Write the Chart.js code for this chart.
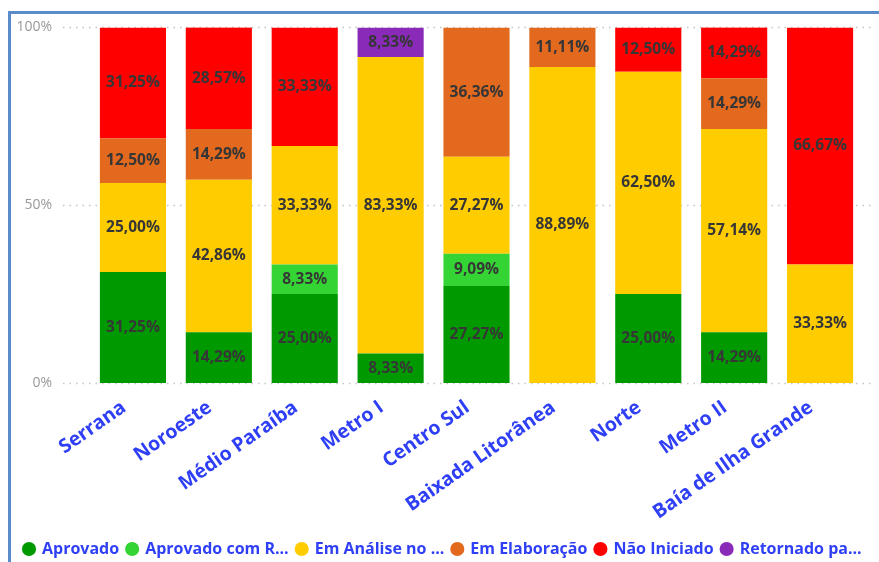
<!DOCTYPE html>
<html>
<head>
<meta charset="utf-8">
<script src="https://cdn.jsdelivr.net/npm/chart.js"></script>
<style>
  html, body { margin: 0; padding: 0; background: #fff; overflow: hidden; }
  #frame { position: absolute; left: 8px; top: 11px; width: 900px; height: 600px; border-top: 3px solid #5b8bc9; border-left: 3px solid #5b8bc9; }
  #wrap { position: absolute; left: 0; top: -19px; width: 879px; height: 586px; }
</style>
</head>
<body>
<div id="frame"></div>
<div id="wrap"><canvas id="chart"></canvas></div>
<script>
const regioes = ['Serrana', 'Noroeste', 'Médio Paraíba', 'Metro I', 'Centro Sul', 'Baixada Litorânea', 'Norte', 'Metro II', 'Baía de Ilha Grande'];

const aprovado      = [31.25, 14.29, 25.00, 8.33, 27.27, 0,     25.00, 14.29, 0];
const aprovadoComR  = [0,     0,     8.33,  0,    9.09,  0,     0,     0,     0];
const emAnalise     = [25.00, 42.86, 33.33, 83.33, 27.27, 88.89, 62.50, 57.14, 33.33];
const emElaboracao  = [12.50, 14.29, 0,     0,    36.36, 11.11, 0,     14.29, 0];
const naoIniciado   = [31.25, 28.57, 33.33, 0,    0,     0,     12.50, 14.29, 66.67];
const retornado     = [0,     0,     0,     8.33, 0,     0,     0,     0,     0];

const yTicks = [0, 50, 100];

// rotulos dentro das barras
const rotulos = {
  id: 'rotulos',
  afterDatasetsDraw(chart) {
    const ctx = chart.ctx;
    ctx.save();
    ctx.font = 'bold 15.5px "Open Sans"';
    ctx.fillStyle = '#363636';
    ctx.textAlign = 'center';
    ctx.textBaseline = 'middle';
    chart.data.datasets.forEach((ds, i) => {
      const meta = chart.getDatasetMeta(i);
      meta.data.forEach((bar, j) => {
        const v = ds.data[j];
        if (!v) return;
        ctx.fillText(v.toFixed(2).replace('.', ',') + '%', bar.x, (bar.y + bar.base) / 2);
      });
    });
    ctx.restore();
  }
};

// linhas pontilhadas da grade
const grade = {
  id: 'grade',
  beforeDatasetsDraw(chart) {
    const ctx = chart.ctx;
    const y = chart.scales.y;
    ctx.save();
    ctx.strokeStyle = '#c4c4c4';
    ctx.lineWidth = 1.5;
    ctx.setLineDash([1.5, 5]);
    yTicks.forEach(t => {
      const py = Math.round(y.getPixelForValue(t)) + 0.5;
      ctx.beginPath();
      ctx.moveTo(63, py);
      ctx.lineTo(872, py);
      ctx.stroke();
    });
    ctx.restore();
  }
};

const ds = (label, data, color) => ({
  label, data, backgroundColor: color, borderWidth: 0,
  categoryPercentage: 1, barPercentage: 0.77
});

new Chart(document.getElementById('chart'), {
  type: 'bar',
  data: {
    labels: regioes,
    datasets: [
      ds('Aprovado', aprovado, '#009a00'),
      ds('Aprovado com R...', aprovadoComR, '#35d435'),
      ds('Em Análise no ...', emAnalise, '#ffcc00'),
      ds('Em Elaboração', emElaboracao, '#e2691d'),
      ds('Não Iniciado', naoIniciado, '#ff0000'),
      ds('Retornado pa...', retornado, '#8a2ab8')
    ]
  },
  options: {
    responsive: true,
    maintainAspectRatio: false,
    animation: false,
    layout: { padding: { top: 0, right: 0, left: 16, bottom: 0 } },
    plugins: {
      tooltip: { enabled: false },
      legend: {
        position: 'bottom',
        align: 'start',
        labels: {
          usePointStyle: true,
          pointStyle: 'circle',
          boxWidth: 10,
          boxHeight: 10,
          padding: 8,
          color: '#2f3ff5',
          font: { family: 'Open Sans', size: 16, weight: 'bold' }
        }
      }
    },
    scales: {
      x: {
        stacked: true,
        grid: { display: false },
        border: { display: false },
        ticks: {
          color: '#2f3ff5',
          minRotation: 35,
          maxRotation: 35,
          padding: 5,
          labelOffset: -9,
          font: { family: 'Open Sans', size: 19.5, weight: 'bold' }
        },
        afterFit: s => { s.height = 150; }
      },
      y: {
        stacked: true,
        min: 0,
        max: 100,
        grid: { display: false, drawTicks: false },
        border: { display: false },
        afterBuildTicks: s => { s.ticks = yTicks.map(v => ({ value: v })); },
        ticks: {
          color: '#999999',
          padding: 38,
          font: { family: 'Open Sans', size: 14 },
          callback: v => v + '%'
        },
        afterFit: s => { s.width = 74; }
      },
      // eixo vazio so para a margem direita
      margem: {
        position: 'right',
        grid: { display: false },
        border: { display: false },
        ticks: { display: false },
        afterFit: s => { s.width = 16; }
      }
    }
  },
  plugins: [grade, rotulos]
});
</script>
</body>
</html>
